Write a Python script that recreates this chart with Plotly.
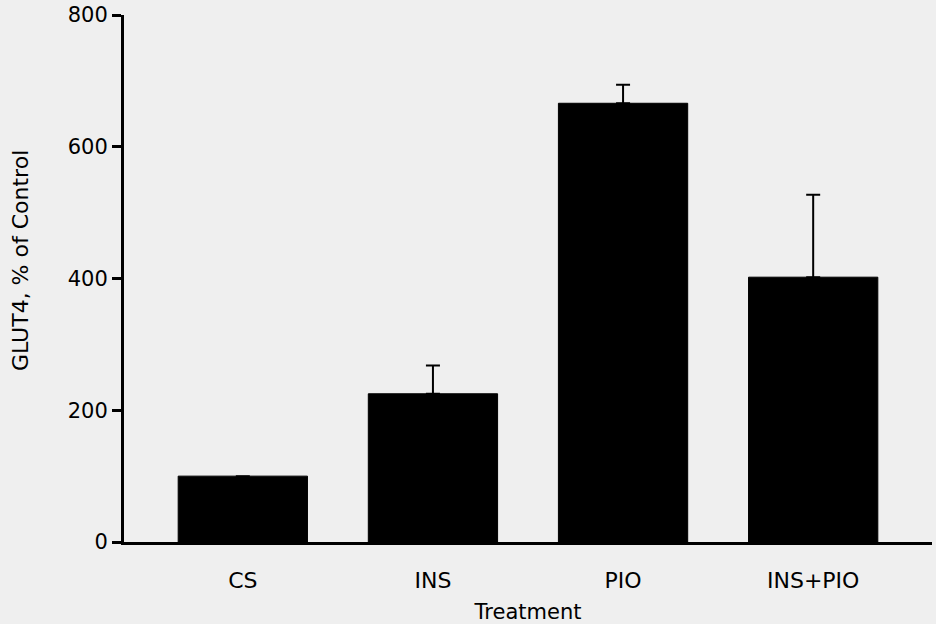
import plotly.graph_objects as go

# GLUT4 expression by treatment, as % of control
treatments = ["CS", "INS", "PIO", "INS+PIO"]
glut4_pct = [100, 225, 666, 402]
glut4_err = [0, 43, 28, 125]

y_ticks = [0, 200, 400, 600, 800]

font_family = "DejaVu Sans, Liberation Sans, Arial, sans-serif"

fig = go.Figure(
    go.Bar(
        x=treatments,
        y=glut4_pct,
        marker=dict(color="black", line=dict(color="black", width=1)),
        width=0.68,
        error_y=dict(
            type="data",
            symmetric=False,
            array=glut4_err,
            arrayminus=[0] * len(glut4_err),
            color="black",
            thickness=2,
            width=7,
        ),
    )
)

fig.update_layout(
    width=936,
    height=624,
    margin=dict(l=124, r=4, t=15, b=82),
    paper_bgcolor="#efefef",
    plot_bgcolor="#efefef",
    showlegend=False,
    font=dict(family=font_family, size=21, color="black"),
)

fig.update_xaxes(
    range=[-0.625, 3.625],
    showline=True,
    linecolor="black",
    linewidth=3,
    ticks="",
    ticklabelstandoff=17,
    showgrid=False,
    zeroline=False,
    tickfont=dict(size=22),
    title=dict(text="Treatment", font=dict(size=21), standoff=12),
)

fig.update_yaxes(
    range=[0, 800],
    tickvals=y_ticks,
    showline=True,
    linecolor="black",
    linewidth=3,
    ticks="outside",
    ticklen=9,
    tickwidth=3,
    tickcolor="black",
    showgrid=False,
    zeroline=False,
    tickfont=dict(size=21),
)

# vertical axis title, placed slightly above the plot's middle
fig.add_annotation(
    text="GLUT4, % of Control",
    textangle=-90,
    xref="paper",
    yref="paper",
    x=0,
    y=0.533,
    xanchor="center",
    yanchor="middle",
    xshift=-104,
    showarrow=False,
    font=dict(size=22, color="black"),
)

fig.write_html("out.html")
